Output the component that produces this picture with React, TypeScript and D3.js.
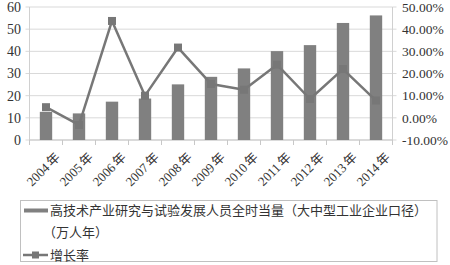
import React from "react";
import * as d3 from "d3";

const years = ["2004年", "2005年", "2006年", "2007年", "2008年", "2009年", "2010年", "2011年", "2012年", "2013年", "2014年"];
const staff = [12.7, 12.0, 17.3, 18.7, 25.1, 28.5, 32.3, 40.1, 42.8, 52.8, 56.2];
const growth = [4.8, -3.2, 43.7, 10.0, 31.7, 15.3, 12.7, 24.0, 8.5, 22.0, 7.8];
const leftTicks = [0, 10, 20, 30, 40, 50, 60];
const rightTicks = [-10, 0, 10, 20, 30, 40, 50];
const legendBar = ["高技术产业研究与试验发展人员全时当量（大中型工业企业口径）", "（万人年）"];
const legendLine = "增长率";

const W = 450;
const H = 265;
const plotL = 29.5;
const plotR = 392.5;
const plotT = 7;
const plotB = 140;
const serif = "'Liberation Serif', 'DejaVu Serif', 'Noto Sans CJK SC', serif";
const cjk = "'Noto Sans CJK SC', sans-serif";
const barColor = "#808080";
const lineColor = "#777777";

export default function App() {
  const x = d3.scaleBand<string>().domain(years).range([plotL, plotR]).paddingInner(0.625).paddingOuter(0.3125);
  const yL = d3.scaleLinear().domain([0, 60]).range([plotB, plotT]);
  const yR = d3.scaleLinear().domain([-10, 50]).range([plotB, plotT]);
  const cx = (d: string) => (x(d) as number) + x.bandwidth() / 2;
  const step = x.step();
  const line = d3
    .line<number>()
    .x((_, i) => cx(years[i]))
    .y((v) => yR(v));
  const ms = 8;

  return (
    <svg width={W} height={H} style={{ position: "absolute", left: 0, top: 0, background: "#fff" }}>
      {leftTicks.map((t) => (
        <line key={"g" + t} x1={plotL - 4} x2={plotR} y1={yL(t)} y2={yL(t)} stroke="#d9d9d9" strokeWidth={1} />
      ))}
      {rightTicks.map((t) => (
        <line key={"rt" + t} x1={plotR} x2={plotR + 4} y1={yR(t)} y2={yR(t)} stroke="#d9d9d9" strokeWidth={1} />
      ))}
      <line x1={plotL} x2={plotL} y1={plotT} y2={plotB} stroke="#d0d0d0" />
      <line x1={plotR} x2={plotR} y1={plotT} y2={plotB} stroke="#d0d0d0" />
      <line x1={plotL} x2={plotR} y1={plotB} y2={plotB} stroke="#c8c8c8" />
      {years.map((d, i) => (
        <line key={"xt" + i} x1={plotL + step * i} x2={plotL + step * i} y1={plotB} y2={plotB + 5} stroke="#c8c8c8" />
      ))}
      <line x1={plotR} x2={plotR} y1={plotB} y2={plotB + 5} stroke="#c8c8c8" />
      {years.map((d, i) => (
        <rect key={"b" + d} x={x(d)} y={yL(staff[i])} width={x.bandwidth()} height={yL(0) - yL(staff[i])} fill={barColor} />
      ))}
      <path d={line(growth) || ""} fill="none" stroke={lineColor} strokeWidth={2.5} strokeLinejoin="round" />
      {growth.map((v, i) => (
        <rect key={"m" + i} x={cx(years[i]) - ms / 2} y={yR(v) - ms / 2} width={ms} height={ms} fill={lineColor} />
      ))}
      {leftTicks.map((t) => (
        <text key={"lt" + t} x={21} y={yL(t)} dy="0.35em" textAnchor="end" fontFamily={serif} fontSize={14} fill="#333">
          {t}
        </text>
      ))}
      {rightTicks.map((t) => (
        <text key={"rl" + t} x={402} y={yR(t)} dy="0.35em" textAnchor="start" fontFamily={serif} fontSize={13.5} fill="#333">
          {t.toFixed(2) + "%"}
        </text>
      ))}
      {years.map((d) => (
        <text
          key={"xl" + d}
          transform={`translate(${cx(d) + 15},${plotB + 18}) rotate(-45)`}
          textAnchor="end"
          fontFamily={serif}
          fontSize={13}
          fill="#333"
        >
          {d.replace("年", "")}
          <tspan dx={2}>年</tspan>
        </text>
      ))}
      <rect x={20.5} y={200.5} width={416.5} height={61} fill="#fff" stroke="#c0c0c0" />
      <rect x={24} y={208.5} width={24} height={4} fill={barColor} />
      <text x={50} y={214.5} fontFamily={cjk} fontSize={13} fill="#333">
        {legendBar[0]}
      </text>
      <text x={43} y={236.5} fontFamily={cjk} fontSize={13} fill="#333">
        {legendBar[1]}
      </text>
      <line x1={23} x2={48} y1={255} y2={255} stroke={lineColor} strokeWidth={2.5} />
      <rect x={32} y={251.5} width={7} height={7} fill={lineColor} />
      <text x={50} y={259.5} fontFamily={cjk} fontSize={13} fill="#333">
        {legendLine}
      </text>
    </svg>
  );
}
